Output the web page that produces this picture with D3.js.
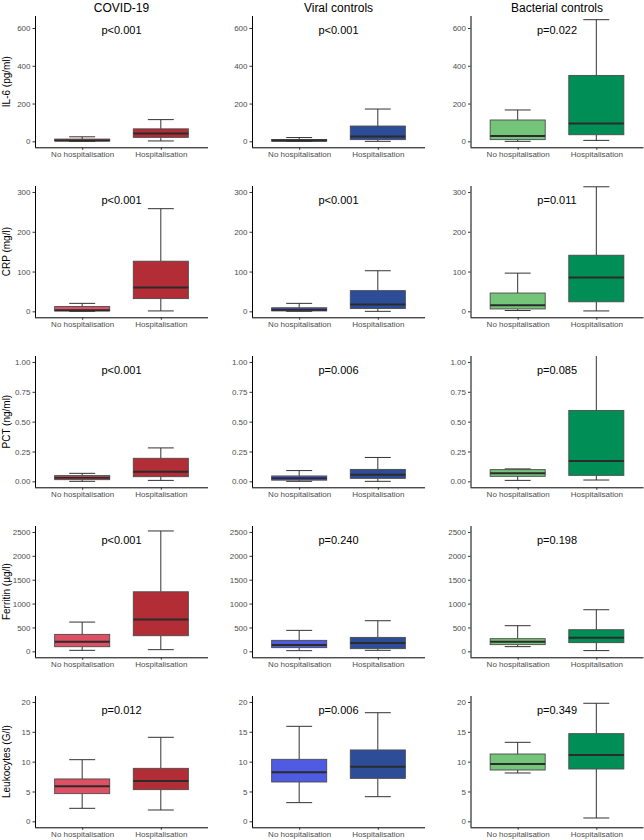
<!DOCTYPE html>
<html><head><meta charset="utf-8">
<script src="https://cdn.jsdelivr.net/npm/d3@7"></script>
<style>body{margin:0;background:#fff}svg{display:block;font-family:"Liberation Sans",Arial,sans-serif}</style>
</head><body><svg id="c" width="644" height="840"></svg>
<script>
const groups = ["COVID-19", "Viral controls", "Bacterial controls"];
const categories = ["No hospitalisation", "Hospitalisation"];
const markers = ["IL-6 (pg/ml)", "CRP (mg/l)", "PCT (ng/ml)", "Ferritin (µg/l)", "Leukocytes (G/l)"];
const yLimits = [[0, 632], [0, 300], [0, 1], [0, 2500], [0, 20]];
const yTicks = [[0, 200, 400, 600], [0, 100, 200, 300], [0, 0.25, 0.5, 0.75, 1], [0, 500, 1000, 1500, 2000, 2500], [0, 5, 10, 15, 20]];
const pValues = [
  ["p<0.001", "p<0.001", "p=0.022"],
  ["p<0.001", "p<0.001", "p=0.011"],
  ["p<0.001", "p=0.006", "p=0.085"],
  ["p<0.001", "p=0.240", "p=0.198"],
  ["p=0.012", "p=0.006", "p=0.349"]
];
// [min, q1, median, q3, max] per group, per category
const il6 = [
  [[0, 2, 5, 12, 24], [2, 21, 41, 66, 115]],
  [[0, 1, 4, 10, 20], [0, 9, 25, 81, 171]],
  [[0, 9, 28, 113, 166], [5, 35, 95, 349, 644]]
];
const crp = [
  [[0, 1, 3, 12, 20], [1, 32, 60, 126, 258]],
  [[0, 1, 4, 9, 20], [0, 7, 17, 52, 102]],
  [[2, 6, 15, 46, 96], [1, 24, 85, 141, 313]]
];
const pct = [
  [[0, 0.014, 0.031, 0.048, 0.067], [0.008, 0.039, 0.081, 0.193, 0.28]],
  [[0, 0.01, 0.025, 0.045, 0.09], [0, 0.025, 0.056, 0.1, 0.2]],
  [[0.008, 0.042, 0.067, 0.098, 0.104], [0.011, 0.05, 0.171, 0.594, 1.3]]
];
const ferritin = [
  [[21, 97, 202, 355, 613], [35, 327, 669, 1247, 2521]],
  [[14, 77, 132, 230, 439], [21, 56, 174, 292, 641]],
  [[98, 140, 203, 265, 537], [15, 182, 286, 453, 871]]
];
const leukocytes = [
  [[2.18, 4.64, 5.87, 7.1, 10.33], [1.9, 5.31, 6.76, 8.88, 14.08]],
  [[3.13, 6.59, 8.21, 10.39, 15.92], [4.13, 7.2, 9.16, 11.96, 18.2]],
  [[8.1, 8.6, 9.6, 11.28, 13.24], [0.56, 8.77, 11.12, 14.69, 19.78]]
];
const fillColors = [["#DE5064", "#B22D36"], ["#4F5BE0", "#2E4D98"], ["#74C47A", "#008E57"]];
const stats = [il6, crp, pct, ferritin, leukocytes];

const svg = d3.select("#c");
const panelLefts = [35, 252, 470.5];
const panelW = 173, panelH = 131.3, rowTop0 = 16, rowPitch = 170;
const boxW = 0.7, capW = 0.33;

// column titles
groups.forEach((g, j) => {
  svg.append("text").attr("x", panelLefts[j] + panelW / 2).attr("y", 12)
    .attr("text-anchor", "middle").attr("font-size", 12).attr("fill", "#000").text(g);
});

const defs = svg.append("defs");

markers.forEach((m, i) => {
  const top = rowTop0 + rowPitch * i;
  const [lo, hi] = yLimits[i];
  const ex = (hi - lo) * 0.05;
  const y = d3.scaleLinear().domain([lo - ex, hi + ex]).range([top + panelH, top]);
  const fmt = i === 2 ? d3.format(".2f") : d3.format("d");

  groups.forEach((g, j) => {
    const left = panelLefts[j];
    const x = d3.scaleLinear().domain([0.4, 2.6]).range([left, left + panelW]);
    const band = x(2) - x(1);
    const clipId = `clip${i}_${j}`;
    defs.append("clipPath").attr("id", clipId).append("rect")
      .attr("x", left).attr("y", top).attr("width", panelW).attr("height", panelH);
    const gp = svg.append("g").attr("clip-path", `url(#${clipId})`);

    categories.forEach((c, k) => {
      const [mn, q1, md, q3, mx] = stats[i][j][k];
      const cx = x(k + 1);
      // whiskers
      gp.append("line").attr("x1", cx).attr("x2", cx).attr("y1", y(q3)).attr("y2", y(mx))
        .attr("stroke", "#333").attr("stroke-width", 1);
      gp.append("line").attr("x1", cx).attr("x2", cx).attr("y1", y(q1)).attr("y2", y(mn))
        .attr("stroke", "#333").attr("stroke-width", 1);
      [mn, mx].forEach(v => {
        gp.append("line").attr("x1", cx - capW * band / 2).attr("x2", cx + capW * band / 2)
          .attr("y1", y(v)).attr("y2", y(v)).attr("stroke", "#333").attr("stroke-width", 1);
      });
      // box
      gp.append("rect").attr("x", cx - boxW * band / 2).attr("width", boxW * band)
        .attr("y", y(q3)).attr("height", Math.max(0, y(q1) - y(q3)))
        .attr("fill", fillColors[j][k]).attr("stroke", "#4a4a4a").attr("stroke-width", 0.9);
      gp.append("line").attr("x1", cx - boxW * band / 2).attr("x2", cx + boxW * band / 2)
        .attr("y1", y(md)).attr("y2", y(md)).attr("stroke", "#2b2b2b").attr("stroke-width", 2);
    });

    // y axis
    const ya = svg.append("g").attr("transform", `translate(${left},0)`)
      .call(d3.axisLeft(y).tickValues(yTicks[i]).tickFormat(fmt).tickSize(2.5).tickPadding(2));
    ya.select(".domain").attr("stroke", "#000").attr("stroke-width", 1)
      .attr("d", `M0.5,${top}V${top + panelH}`);
    ya.selectAll(".tick line").attr("stroke", "#333");
    ya.selectAll(".tick text").attr("font-size", 8).attr("fill", "#4d4d4d")
      .attr("font-family", "Liberation Sans, Arial, sans-serif");

    // x axis
    const xs = d3.scalePoint().domain(categories).range([x(1), x(2)]);
    const xa = svg.append("g").attr("transform", `translate(0,${top + panelH})`)
      .call(d3.axisBottom(xs).tickSize(2.5).tickPadding(1.5));
    xa.select(".domain").attr("stroke", "#000").attr("stroke-width", 1)
      .attr("d", `M${left},0.5H${left + panelW}`);
    xa.selectAll(".tick line").attr("stroke", "#333");
    xa.selectAll(".tick text").attr("font-size", 8).attr("fill", "#4d4d4d")
      .attr("font-family", "Liberation Sans, Arial, sans-serif");

    // p value
    svg.append("text").attr("x", x(1.5)).attr("y", top + 14).attr("dy", "0.36em")
      .attr("text-anchor", "middle").attr("font-size", 11).attr("fill", "#000").text(pValues[i][j]);
  });

  // y title
  svg.append("text").attr("transform", `translate(9.5,${top + panelH / 2}) rotate(-90)`)
    .attr("text-anchor", "middle").attr("font-size", 10).attr("fill", "#000").text(m);
});
</script></body></html>
